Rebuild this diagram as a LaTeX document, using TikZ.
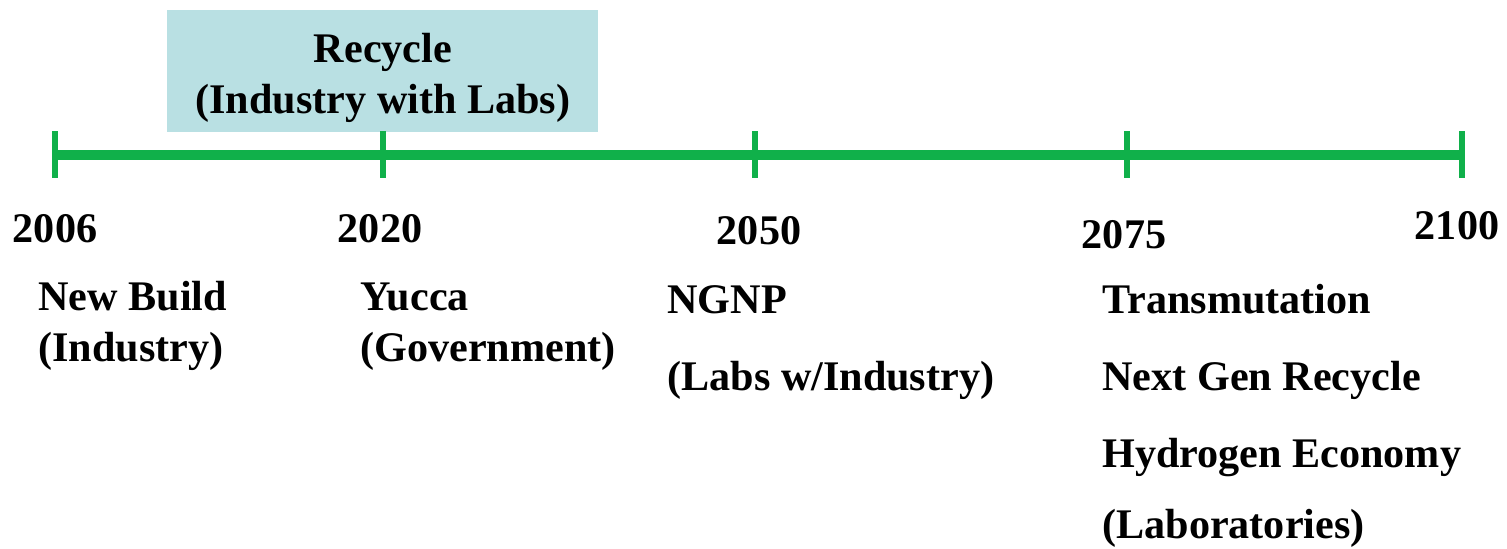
\documentclass[tikz,border=0pt]{standalone}
\usepackage{fontspec}
\setmainfont{Liberation Serif}
\definecolor{axisgreen}{RGB}{16,176,74}
\definecolor{boxblue}{RGB}{185,224,227}
\begin{document}
\begin{tikzpicture}[x=0.02cm,y=-0.02cm,
  txt/.style={inner sep=0pt,font=\fontsize{24}{28}\selectfont\bfseries},
  lab/.style={txt,anchor=base west},
  year/.style={txt,anchor=base},
  axisline/.style={line width=0.2cm,axisgreen},
  tickline/.style={line width=0.12cm,axisgreen}]

\useasboundingbox (0,0) rectangle (1507,548);

% Cadre Recycle
  \fill[boxblue] (167,10) rectangle (598,132);
  \node[year] (recycle) at (383,62) {Recycle};
  \node[year] (recyclewho) at (383,113) {(Industry with Labs)};

% Axe et graduations
  \foreach \x/\yr in {55/2006, 383/2020, 755/2050, 1127/2075, 1462/2100}
  {\coordinate (t\yr) at (\x,155);
   \draw[tickline] (\x,131) -- (\x,178);}
  \draw[axisline] (t2006) -- (t2100);

% Annees
  \foreach \x/\b/\yr in {55/242/2006, 380/242/2020, 759/244/2050, 1124/248/2075, 1457/239/2100}
  \node[year] (y\yr) at (\x,\b) {\yr};

% Etiquettes
  \node[lab] (newbuild) at (38,310) {New Build};
  \node[lab] (newbuildwho) at (38,361) {(Industry)};
  \node[lab] (yucca) at (360,310) {Yucca};
  \node[lab] (yuccawho) at (360,361) {(Government)};
  \node[lab] (ngnp) at (667,313) {NGNP};
  \node[lab] (ngnpwho) at (667,390) {(Labs w/Industry)};
  \node[lab] (transm) at (1102,313) {Transmutation};
  \node[lab] (nextgen) at (1102,390) {Next Gen Recycle};
  \node[lab] (hydrogen) at (1102,467) {Hydrogen Economy};
  \node[lab] (labos) at (1102,538) {(Laboratories)};

\end{tikzpicture}
\end{document}
